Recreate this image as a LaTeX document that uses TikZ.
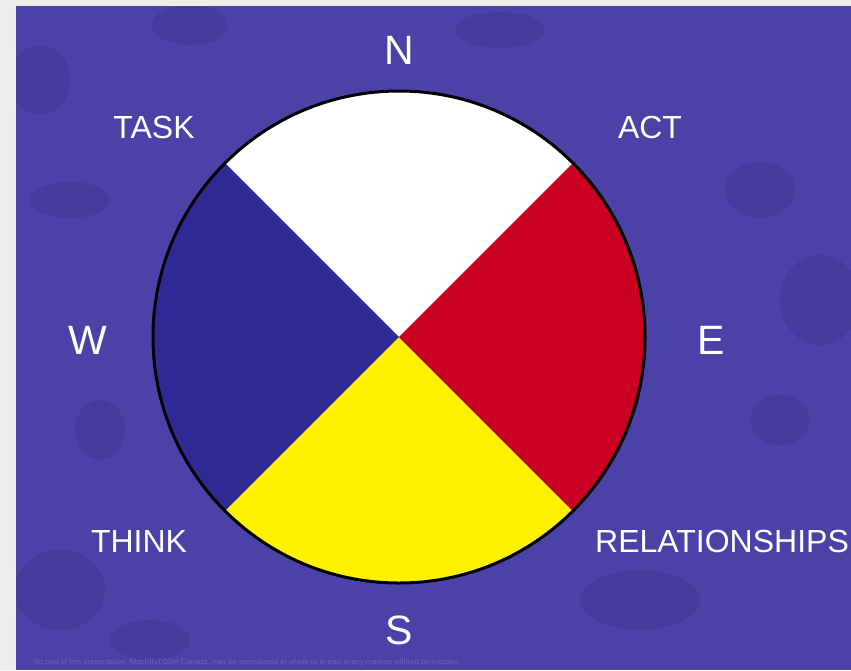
\documentclass[tikz,border=0pt]{standalone}
\usepackage{fontspec}
\setmainfont{Liberation Sans}
\definecolor{pagegray}{HTML}{ECECEA}
\definecolor{bgpurple}{HTML}{4B41A6}
\definecolor{blotch}{HTML}{3D3395}
\definecolor{wblue}{HTML}{2F2A95}
\definecolor{wred}{HTML}{CC0022}
\definecolor{wyellow}{HTML}{FFF100}
\definecolor{footer}{HTML}{6A62BE}
\tikzset{
  lbl/.style={text=white, font=\fontsize{32}{36}\selectfont, inner sep=0pt},
  dir/.style={text=white, font=\fontsize{41}{46}\selectfont, inner sep=0pt},
  stone/.style={fill=blotch, opacity=0.4},
}
\begin{document}
\begin{tikzpicture}[x=1pt,y=-1pt]
\useasboundingbox (0,0) rectangle (851,670);
\fill[pagegray] (0,0) rectangle (851,670);
\fill[bgpurple] (16,6) rectangle (851,670);
% background stones
\begin{scope}
\clip (16,6) rectangle (851,670);
\fill[stone] (190,25) ellipse (38 and 20);
\fill[stone] (40,80) ellipse (30 and 35);
\fill[stone] (70,200) ellipse (40 and 18);
\fill[stone] (500,30) ellipse (45 and 18);
\fill[stone] (760,190) ellipse (35 and 28);
\fill[stone] (820,300) ellipse (40 and 45);
\fill[stone] (780,420) ellipse (30 and 25);
\fill[stone] (60,590) ellipse (45 and 40);
\fill[stone] (150,640) ellipse (40 and 20);
\fill[stone] (640,600) ellipse (60 and 30);
\fill[stone] (100,430) ellipse (25 and 30);
\end{scope}
% wheel (y axis points down, so 270 deg is up)
\coordinate (c) at (399,337);
\def\R{246}
\fill[white] (c) -- ++(225:\R) arc[start angle=225,end angle=315,radius=\R] -- cycle;
\fill[wblue] (c) -- ++(135:\R) arc[start angle=135,end angle=225,radius=\R] -- cycle;
\fill[wyellow] (c) -- ++(45:\R) arc[start angle=45,end angle=135,radius=\R] -- cycle;
\fill[wred] (c) -- ++(-45:\R) arc[start angle=-45,end angle=45,radius=\R] -- cycle;
\node[circle, draw=black, line width=3pt, minimum size=2*\R pt, inner sep=0pt] (wheel) at (c) {};
% labels
\node[dir] (n) at (399,50) {N};
\node[dir] (s) at (399,630) {S};
\node[dir] (w) at (88,340) {W};
\node[dir] (e) at (711,340) {E};
\node[lbl] (task) at (154,127) {TASK};
\node[lbl] (act) at (650,127) {ACT};
\node[lbl] (think) at (139,541) {THINK};
\node[lbl] (rel) at (722,541) {RELATIONSHIPS};
\node[text=footer, font=\fontsize{7.7}{9}\selectfont, anchor=west, inner sep=0pt] (foot) at (33,662)
  {No part of this presentation, MacKINTOSH Canada, may be reproduced in whole or in part in any manner without permission.};
\end{tikzpicture}
\end{document}
